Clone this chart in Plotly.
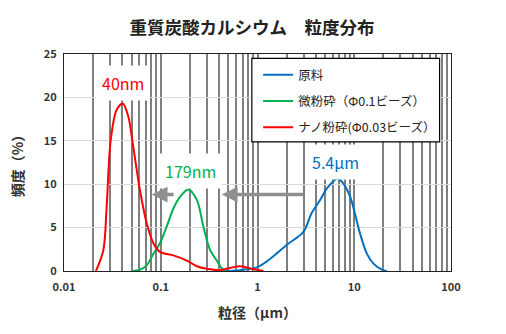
import math
import plotly.graph_objects as go

# Particle size (μm) and frequency (%) for each sample
raw_x = [0.44, 0.66, 1.0, 1.46, 2.0, 2.98, 3.6, 4.45, 5.2, 6.7, 7.7, 9.1, 11.5, 13.5, 15.8, 19.3, 21.7]
raw_y = [0, 0.1, 0.45, 1.7, 3.0, 4.5, 6.6, 8.2, 9.5, 10.67, 10.1, 8.5, 4.3, 2.0, 0.85, 0.15, 0]

fine_x = [0.051, 0.061, 0.0716, 0.084, 0.098, 0.115, 0.135, 0.158, 0.193, 0.236, 0.276, 0.324, 0.38, 0.43, 0.48]
fine_y = [0, 0.15, 0.65, 2.0, 3.2, 5.1, 7.2, 8.55, 9.4, 8.2, 5.1, 2.4, 1.2, 0.3, 0]

nano_x = [0.0214, 0.0255, 0.0276, 0.0304, 0.0351, 0.0405, 0.0462, 0.052, 0.061, 0.0716, 0.084,
          0.098, 0.135, 0.186, 0.236, 0.30, 0.41, 0.52, 0.66, 0.84, 1.15]
nano_y = [0, 2.4, 7.4, 15.1, 18.6, 19.3, 17.8, 14.3, 9.3, 5.5, 3.2,
          2.2, 1.8, 1.2, 0.55, 0.25, 0.1, 0.35, 0.55, 0.3, 0]

series_names = ["原料", "微粉砕（Φ0.1ビーズ）", "ナノ粉砕(Φ0.03ビーズ）"]
series_colors = ["#0070C0", "#00B050", "#FF0000"]

# Peak labels: text, x (μm), y (%)
peak_text = ["40nm", "179nm", "5.4μm"]
peak_x = [0.0407, 0.204, 6.46]
peak_y = [21.65, 11.5, 12.6]
peak_colors = ["#FF0000", "#00B050", "#0070C0"]

# Shift arrows: head x, tail x (μm), y (%)
arrow_head = [0.0807, 0.428]
arrow_tail = [0.1406, 3.10]
arrow_y = [8.8, 8.8]

x_tick_vals = [m * 10 ** e for e in range(-2, 2) for m in range(1, 10)] + [100]
x_decade_text = {0.01: "0.01", 0.1: "0.1", 1: "1", 10: "10", 100: "100"}
x_tick_text = [x_decade_text.get(round(v, 6), "") for v in x_tick_vals]
y_tick_vals = [0, 5, 10, 15, 20, 25]

FONT = "Noto Sans CJK JP"

fig = go.Figure()
for xs, ys, name, col in zip([raw_x, fine_x, nano_x], [raw_y, fine_y, nano_y], series_names, series_colors):
    fig.add_trace(go.Scatter(
        x=xs, y=ys, name=name, mode="lines",
        line=dict(color=col, width=2, shape="spline", smoothing=0.9),
        legendgroup=name,
    ))

for t, x, y, c in zip(peak_text, peak_x, peak_y, peak_colors):
    fig.add_annotation(x=math.log10(x), y=y, text=t, showarrow=False,
                       font=dict(family=FONT, size=16, color=c),
                       bgcolor="white", borderpad=5)

for hx, tx, y in zip(arrow_head, arrow_tail, arrow_y):
    fig.add_annotation(x=math.log10(hx), y=y, ax=math.log10(tx), ay=y,
                       xref="x", yref="y", axref="x", ayref="y",
                       text="", showarrow=True, arrowhead=2, arrowsize=0.9,
                       arrowwidth=3.5, arrowcolor="#8f8f8f")

# Legend frame
fig.add_shape(type="rect", xref="paper", yref="paper",
              x0=(251.7 - 64) / 386.7, x1=(439.3 - 64) / 386.7,
              y0=(270.7 - 141.7) / 216.7, y1=(270.7 - 58.3) / 216.7,
              line=dict(color="black", width=1.2), fillcolor="white", layer="above")

fig.update_layout(
    width=506, height=334,
    margin=dict(l=64, r=55, t=54, b=63),
    paper_bgcolor="white", plot_bgcolor="white",
    title=dict(text="重質炭酸カルシウム　粒度分布", x=252 / 506, xanchor="center", xref="container",
               y=0.918, yanchor="middle",
               font=dict(family=FONT, size=17.5, color="#222", weight="bold")),
    font=dict(family=FONT, color="#333"),
    showlegend=True,
    legend=dict(x=(258 - 64) / 386.7, y=(270.7 - 60) / 216.7, xanchor="left", yanchor="top",
                bgcolor="rgba(0,0,0,0)", borderwidth=0,
                font=dict(family=FONT, size=12.5, color="#222"),
                itemwidth=30, tracegroupgap=7),
    xaxis=dict(type="log", range=[-2, 2], tickvals=x_tick_vals, ticktext=x_tick_text,
               showgrid=True, gridcolor="#7f7f7f", gridwidth=1.5,
               showline=True, linecolor="#222", linewidth=1.3, mirror=True,
               ticks="", ticklabelstandoff=6,
               tickfont=dict(family=FONT, size=11, color="#333", weight="bold"),
               title=dict(text="粒径（μm）", font=dict(family=FONT, size=14, color="#333", weight="bold"),
                          standoff=14),
               zeroline=False),
    yaxis=dict(range=[0, 25], tickvals=y_tick_vals,
               showgrid=True, gridcolor="#d9d9d9", gridwidth=1,
               showline=True, linecolor="#222", linewidth=1.3, mirror=True,
               ticks="", ticklabelstandoff=4,
               tickfont=dict(family=FONT, size=11, color="#333", weight="bold"),
               title=dict(text="頻度（%）", font=dict(family=FONT, size=14, color="#333", weight="bold"),
                          standoff=16),
               zeroline=False),
)

fig.write_html("out.html")
